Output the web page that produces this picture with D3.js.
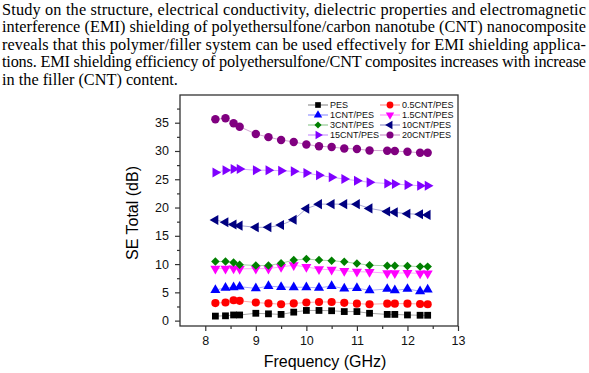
<!DOCTYPE html>
<html>
<head>
<meta charset="utf-8">
<script src="https://cdn.jsdelivr.net/npm/d3@7"></script>
<style>
  body { margin: 0; background: #fff; }
  svg { display: block; }
</style>
</head>
<body>
<svg id="chart" width="589" height="373"></svg>
<script>
const paragraph = [
  "Study on the structure, electrical conductivity, dielectric properties and electromagnetic",
  "interference (EMI) shielding of polyethersulfone/carbon nanotube (CNT) nanocomposite",
  "reveals that this polymer/filler system can be used effectively for EMI shielding applica-",
  "tions. EMI shielding efficiency of polyethersulfone/CNT composites increases with increase",
  "in the filler (CNT) content."
];

const freq = [8.2, 8.4, 8.56, 8.68, 9.0, 9.25, 9.5, 9.75, 10.0, 10.25, 10.5, 10.75, 11.0, 11.25, 11.6, 11.75, 12.0, 12.25, 12.4];

const seriesNames = ["PES", "0.5CNT/PES", "1CNT/PES", "1.5CNT/PES", "3CNT/PES", "10CNT/PES", "15CNT/PES", "20CNT/PES"];
const pes = [0.8, 0.85, 1.0, 1.0, 1.3, 1.2, 1.1, 1.5, 1.8, 1.8, 1.75, 1.6, 1.6, 1.3, 1.1, 1.1, 1.0, 0.95, 0.95];
const cnt05 = [3.1, 3.2, 3.6, 3.5, 3.2, 3.05, 2.9, 3.05, 3.2, 3.3, 3.3, 3.15, 3.0, 2.9, 3.0, 3.0, 3.0, 2.95, 2.9];
const cnt1 = [5.4, 5.8, 5.9, 6.0, 5.7, 6.1, 5.95, 5.9, 5.9, 5.8, 6.1, 5.65, 5.75, 5.35, 5.6, 5.35, 5.6, 5.2, 5.5];
const cnt15 = [9.2, 9.2, 9.25, 9.15, 9.2, 9.2, 9.5, 9.8, 9.5, 9.1, 9.0, 8.8, 8.65, 8.6, 8.4, 8.4, 8.45, 8.35, 8.35];
const cnt3 = [10.45, 10.45, 10.3, 9.9, 9.75, 9.75, 10.15, 10.7, 10.9, 10.7, 10.6, 10.4, 10.1, 9.8, 9.7, 9.7, 9.65, 9.55, 9.55];
const cnt10 = [17.8, 17.4, 17.0, 16.8, 16.5, 16.5, 16.9, 17.85, 19.8, 20.6, 20.6, 20.6, 20.6, 19.85, 19.3, 19.15, 18.9, 18.8, 18.7];
const cnt15b = [26.2, 26.6, 26.8, 26.8, 26.6, 26.6, 26.5, 26.4, 26.1, 25.7, 25.35, 25.05, 24.75, 24.45, 24.25, 24.15, 24.0, 23.85, 23.85];
const cnt20 = [35.6, 35.8, 34.9, 34.3, 33.0, 32.45, 31.95, 31.6, 31.15, 30.85, 30.7, 30.45, 30.35, 30.1, 30.05, 30.0, 29.85, 29.7, 29.7];

const xTicks = [8, 9, 10, 11, 12, 13];
const yTicks = [0, 5, 10, 15, 20, 25, 30, 35];

const colors = ["#000000", "#ff0000", "#0000ff", "#ff00ff", "#008000", "#000080", "#8000ff", "#800080"];
const allValues = [pes, cnt05, cnt1, cnt15, cnt3, cnt10, cnt15b, cnt20];

// marker shape + rotation for each series
const shapes = [
  { type: d3.symbolSquare, size: 46, rot: 0 },
  { type: d3.symbolCircle, size: 52, rot: 0 },
  { type: d3.symbolTriangle, size: 44, rot: 0 },
  { type: d3.symbolTriangle, size: 44, rot: 180 },
  { type: d3.symbolDiamond2, size: 46, rot: 0 },
  { type: d3.symbolTriangle, size: 44, rot: -90 },
  { type: d3.symbolTriangle, size: 44, rot: 90 },
  { type: d3.symbolCircle, size: 56, rot: 0 }
];

const svg = d3.select("#chart");

// paragraph above the chart, justified like the source page
const para = svg.append("g")
  .style("font-family", "'Liberation Serif', 'Times New Roman', serif")
  .style("font-size", "16.3px")
  .attr("fill", "#000");
para.selectAll("text")
  .data(paragraph)
  .enter()
  .append("text")
  .attr("x", 2)
  .attr("y", (d, i) => 15 + i * 17.4)
  .each(function (d, i) {
    if (i < paragraph.length - 1) {
      d3.select(this).attr("textLength", 584).attr("lengthAdjust", "spacing");
    }
  })
  .text(d => d);

const plot = { left: 180, right: 458, top: 95, bottom: 326 };

const x = d3.scaleLinear().domain([7.5, 13]).range([plot.left, plot.right]);
const y = d3.scaleLinear().domain([-0.95, 39.9]).range([plot.bottom, plot.top]);

const axisColor = "#333";
const font = "Arial, 'Liberation Sans', sans-serif";

// minor ticks
const gx = svg.append("g").attr("transform", `translate(0,${plot.bottom})`);
gx.call(d3.axisBottom(x).tickValues(d3.range(8.5, 13, 1)).tickSize(3).tickFormat(""));
gx.call(g => g.select(".domain").remove());
const gxMaj = svg.append("g").attr("transform", `translate(0,${plot.bottom})`)
  .call(d3.axisBottom(x).tickValues(xTicks).tickSize(5).tickPadding(5).tickFormat(d3.format("d")));
gxMaj.select(".domain").remove();

const gy = svg.append("g").attr("transform", `translate(${plot.left},0)`);
gy.call(d3.axisLeft(y).tickValues(d3.range(2.5, 40, 5)).tickSize(3).tickFormat(""));
gy.call(g => g.select(".domain").remove());
const gyMaj = svg.append("g").attr("transform", `translate(${plot.left},0)`)
  .call(d3.axisLeft(y).tickValues(yTicks).tickSize(5).tickPadding(6));
gyMaj.select(".domain").remove();

svg.selectAll(".tick line").attr("stroke", axisColor).attr("stroke-width", 1.2);
svg.selectAll(".tick text")
  .style("font-family", font)
  .style("font-size", "12.5px")
  .attr("fill", "#111");

// frame
svg.append("rect")
  .attr("x", plot.left)
  .attr("y", plot.top)
  .attr("width", plot.right - plot.left)
  .attr("height", plot.bottom - plot.top)
  .attr("fill", "none")
  .attr("stroke", axisColor)
  .attr("stroke-width", 1.3);

// axis titles
svg.append("text")
  .attr("x", 325)
  .attr("y", 367)
  .attr("text-anchor", "middle")
  .style("font-family", font)
  .style("font-size", "16px")
  .text("Frequency (GHz)");

svg.append("text")
  .attr("transform", `translate(138,213) rotate(-90)`)
  .attr("text-anchor", "middle")
  .style("font-family", font)
  .style("font-size", "16px")
  .text("SE Total (dB)");

// series
const line = d3.line().x((d, i) => x(freq[i])).y(d => y(d));

allValues.forEach((vals, s) => {
  const g = svg.append("g");
  g.append("path")
    .datum(vals)
    .attr("d", line)
    .attr("fill", "none")
    .attr("stroke", colors[s])
    .attr("stroke-opacity", 0.35)
    .attr("stroke-width", 1);
  const sym = d3.symbol().type(shapes[s].type).size(shapes[s].size);
  g.selectAll("path.pt")
    .data(vals)
    .enter()
    .append("path")
    .attr("class", "pt")
    .attr("d", sym)
    .attr("transform", (d, i) => `translate(${x(freq[i])},${y(d)}) rotate(${shapes[s].rot})`)
    .attr("fill", colors[s]);
});

// legend, two columns
const legend = svg.append("g");
const legendItems = legend.selectAll("g")
  .data(seriesNames)
  .enter()
  .append("g")
  .attr("transform", (d, i) => `translate(${i % 2 === 0 ? 308 : 380},${105 + Math.floor(i / 2) * 10})`);

legendItems.append("line")
  .attr("x1", 0).attr("x2", 20)
  .attr("stroke", (d, i) => colors[i])
  .attr("stroke-opacity", 0.5)
  .attr("stroke-width", 1);
legendItems.append("path")
  .attr("d", (d, i) => d3.symbol().type(shapes[i].type).size(shapes[i].size * 0.7)())
  .attr("transform", (d, i) => `translate(10,0) rotate(${shapes[i].rot})`)
  .attr("fill", (d, i) => colors[i]);
legendItems.append("text")
  .attr("x", 22)
  .attr("dy", "0.35em")
  .style("font-family", font)
  .style("font-size", "9px")
  .attr("fill", "#111")
  .text(d => d);
</script>
</body>
</html>
